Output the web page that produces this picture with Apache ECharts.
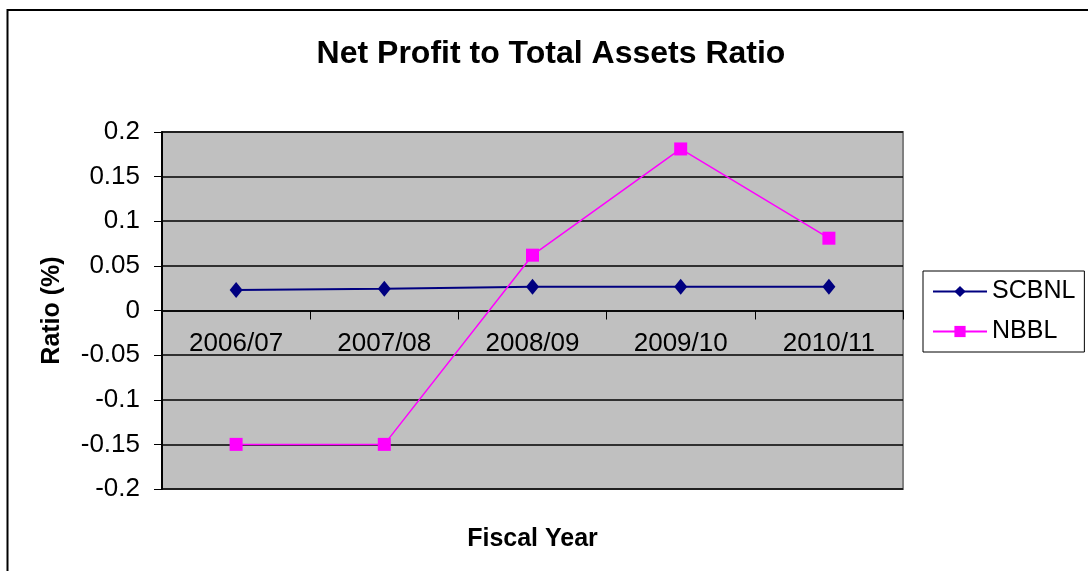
<!DOCTYPE html>
<html>
<head>
<meta charset="utf-8">
<title>Net Profit to Total Assets Ratio</title>
<script src="https://cdn.jsdelivr.net/npm/echarts@6/dist/echarts.min.js"></script>
<style>
  html, body { margin: 0; padding: 0; background: #fff; }
  #chart { width: 1088px; height: 571px; }
</style>
</head>
<body>
<div id="chart"></div>
<script>
// data
const years = ['2006/07', '2007/08', '2008/09', '2009/10', '2010/11']
const scbnl = [0.023, 0.0245, 0.0265, 0.0265, 0.0265]
const nbbl = [-0.15, -0.15, 0.062, 0.181, 0.081]

const yMin = -0.2
const yMax = 0.2
const yStep = 0.05

const fontFamily = '"Liberation Sans", Arial, sans-serif'

// plot area
const gridTop = 132
const gridHeight = 357
// the category axis sits on the zero line, as in the original
const zeroOffset = -gridHeight * (0 - yMin) / (yMax - yMin)

const chart = echarts.init(document.getElementById('chart'))

chart.setOption({
  backgroundColor: '#fff',
  textStyle: { fontFamily },
  title: {
    text: 'Net Profit to Total Assets Ratio',
    left: 546,
    top: 33,
    textAlign: 'center',
    textStyle: { fontSize: 32, fontWeight: 'bold', color: '#000', fontFamily }
  },
  legend: {
    orient: 'vertical',
    left: 923,
    top: 271,
    padding: [8, 9, 8, 9],
    itemGap: 15,
    itemWidth: 54,
    itemHeight: 14,
    borderColor: '#000',
    borderWidth: 1,
    textStyle: { fontSize: 25, color: '#000', fontFamily },
    data: ['SCBNL', 'NBBL']
  },
  grid: {
    left: 162,
    top: gridTop,
    width: 741,
    height: gridHeight,
    outerBoundsMode: 'none',
    show: true,
    backgroundColor: '#C0C0C0',
    borderColor: '#808080',
    borderWidth: 2
  },
  xAxis: {
    type: 'category',
    data: years,
    offset: zeroOffset,
    name: 'Fiscal Year',
    nameLocation: 'middle',
    nameGap: 216,
    nameTextStyle: { fontSize: 25, fontWeight: 'bold', color: '#000', fontFamily },
    axisLine: { onZero: false, lineStyle: { color: '#000', width: 1.5 } },
    axisTick: { show: true, length: 9, lineStyle: { color: '#000' } },
    axisLabel: { fontSize: 26, color: '#000', margin: 20, fontFamily },
    splitLine: { show: false }
  },
  yAxis: {
    type: 'value',
    min: yMin,
    max: yMax,
    interval: yStep,
    name: 'Ratio (%)',
    nameLocation: 'middle',
    nameRotate: 90,
    nameGap: 97,
    nameTextStyle: { fontSize: 25, fontWeight: 'bold', color: '#000', fontFamily },
    axisLine: { show: true, onZero: false, lineStyle: { color: '#000', width: 2 } },
    axisTick: { show: true, length: 8, lineStyle: { color: '#000' } },
    axisLabel: {
      fontSize: 26,
      color: '#000',
      margin: 22,
      fontFamily,
      formatter: v => String(parseFloat(v.toFixed(2)))
    },
    splitLine: { show: true, lineStyle: { color: '#000', width: 1.5 } }
  },
  series: [
    {
      name: 'SCBNL',
      type: 'line',
      data: scbnl,
      symbol: 'diamond',
      symbolSize: [13, 16],
      color: '#000080',
      lineStyle: { width: 2, color: '#000080' },
      itemStyle: { color: '#000080' },
      animation: false
    },
    {
      name: 'NBBL',
      type: 'line',
      data: nbbl,
      symbol: 'rect',
      symbolSize: 13,
      color: '#FF00FF',
      lineStyle: { width: 1.5, color: '#FF00FF' },
      itemStyle: { color: '#FF00FF' },
      animation: false
    }
  ],
  graphic: [{
    type: 'rect',
    shape: { x: 7.5, y: 10, width: 1200, height: 700 },
    style: { fill: 'none', stroke: '#000', lineWidth: 2 },
    silent: true
  }]
})
</script>
</body>
</html>
